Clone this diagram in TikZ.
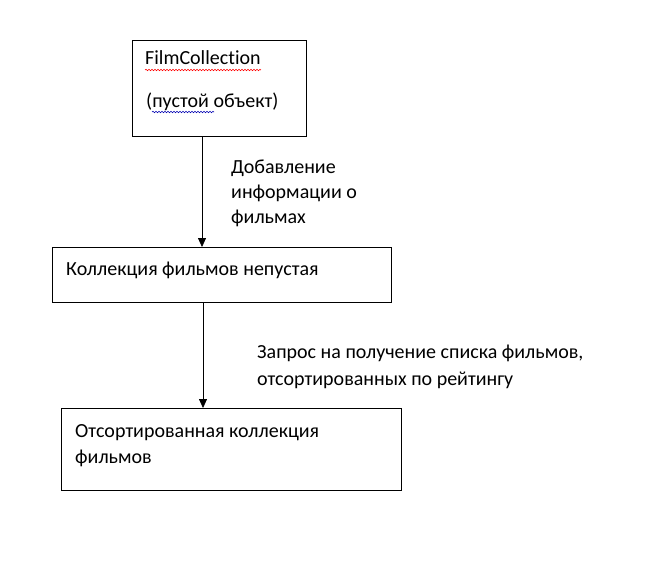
\documentclass[tikz,border=0pt]{standalone}
\usepackage{fontspec}
\setmainfont{Carlito}[Ligatures=NoCommon]
\usetikzlibrary{arrows.meta,positioning,calc,decorations.pathmorphing}

\tikzset{
  statebox/.style={draw, line width=0.9pt, inner sep=0pt, anchor=north west},
  txt/.style={anchor=base west, inner sep=0pt, align=left,
    font=\fontsize{20}{26}\selectfont},
  flow/.style={-{Triangle[length=9pt,width=8pt]}, line width=0.8pt},
  squig/.style={decorate, decoration={snake, amplitude=0.7pt, segment length=3pt},
    line width=0.6pt}
}

\begin{document}
\begin{tikzpicture}[x=1pt,y=-1pt]
  \fill[white] (0,0) rectangle (652,583);
  \useasboundingbox (0,0) rectangle (652,583);

  % states
  \node[statebox, minimum width=174pt, minimum height=96pt] (empty) at (132,40) {};
  \node[statebox, minimum width=339pt, minimum height=55pt] (filled) at (52,247) {};
  \node[statebox, minimum width=340pt, minimum height=82pt] (sorted) at (61,408) {};

  \node[txt] (emptyname) at ($(empty.north west)+(13,25)$) {FilmCollection};
  \node[txt] (emptynote) at ($(empty.north west)+(14,67)$) {(пустой объект)};
  \node[txt] (filledtxt) at ($(filled.north west)+(14,28)$) {Коллекция фильмов непустая};
  \node[txt] (sortedtxt) at ($(sorted.north west)+(14,55)$)
    {Отсортированная коллекция\\фильмов};

  % spelling marks
  \draw[squig, red] ($(emptyname.base west)+(0,5)$) -- ($(emptyname.base east)+(0,5)$);
  \draw[squig, blue!70!black] ($(emptynote.base west)+(6,5)$) -- ++(62,0);

  % transitions
  \coordinate (a1) at ($(empty.south west)+(70,0)$);
  \coordinate (a2) at ($(filled.south west)+(151,0)$);
  \draw[flow] (a1) -- (a1 |- filled.north);
  \draw[flow] (a2) -- (a2 |- sorted.north);

  \node[txt] (addinfo) at ($(a1)+(29,87)$)
    {Добавление\\[-1pt]информации о\\[-1pt]фильмах};
  \node[txt] (request) at ($(a2)+(54,83)$)
    {Запрос на получение списка фильмов,\\[1pt]отсортированных по рейтингу};
\end{tikzpicture}
\end{document}
